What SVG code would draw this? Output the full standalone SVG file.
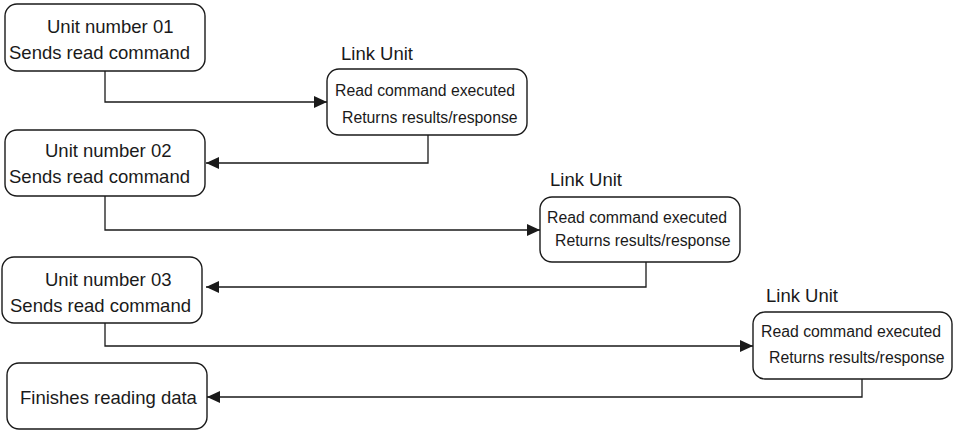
<svg xmlns="http://www.w3.org/2000/svg" width="953" height="430" viewBox="0 0 953 430">
<defs>
<style>
.box{fill:#fff;stroke:#1a1a1a;stroke-width:1.4}
.t{font-family:"Liberation Sans",Arial,sans-serif;font-size:18.5px;fill:#1a1a1a}
.s{font-family:"Liberation Sans",Arial,sans-serif;font-size:15.8px;fill:#1a1a1a}
.c{fill:none;stroke:#1a1a1a;stroke-width:1.3}
</style>
<marker id="arr" markerUnits="userSpaceOnUse" markerWidth="14" markerHeight="12" refX="13" refY="6" orient="auto">
<path d="M0,0 L13,6 L0,12 Z" fill="#1a1a1a"/>
</marker>
</defs>
<rect width="953" height="430" fill="#fff"/>
<g id="connectors">
<path class="c" d="M105,71 V102 H327" marker-end="url(#arr)"/>
<path class="c" d="M428,135 V163 H206" marker-end="url(#arr)"/>
<path class="c" d="M105,196 V230 H540" marker-end="url(#arr)"/>
<path class="c" d="M646,262 V287 H206" marker-end="url(#arr)"/>
<path class="c" d="M105,323 V346 H753" marker-end="url(#arr)"/>
<path class="c" d="M862,379 V397 H207" marker-end="url(#arr)"/>
</g>
<g id="unit01">
<rect class="box" x="5" y="4" width="200" height="67" rx="12"/>
<text class="t" x="47" y="33">Unit number 01</text>
<text class="t" x="9" y="59">Sends read command</text>
</g>
<g id="link1">
<text class="t" x="341" y="60">Link Unit</text>
<rect class="box" x="327" y="69" width="200" height="66" rx="12"/>
<text class="s" x="335" y="96">Read command executed</text>
<text class="s" x="342" y="123">Returns results/response</text>
</g>
<g id="unit02">
<rect class="box" x="5" y="130" width="200" height="66" rx="12"/>
<text class="t" x="45" y="157">Unit number 02</text>
<text class="t" x="9" y="183">Sends read command</text>
</g>
<g id="link2">
<text class="t" x="550" y="186">Link Unit</text>
<rect class="box" x="540" y="197" width="200" height="65" rx="12"/>
<text class="s" x="547" y="223">Read command executed</text>
<text class="s" x="555" y="246">Returns results/response</text>
</g>
<g id="unit03">
<rect class="box" x="2" y="257" width="200" height="66" rx="12"/>
<text class="t" x="45" y="286">Unit number 03</text>
<text class="t" x="10" y="312">Sends read command</text>
</g>
<g id="link3">
<text class="t" x="766" y="302">Link Unit</text>
<rect class="box" x="753" y="312" width="199" height="67" rx="12"/>
<text class="s" x="761" y="337">Read command executed</text>
<text class="s" x="769" y="363">Returns results/response</text>
</g>
<g id="finish">
<rect class="box" x="7" y="363" width="200" height="66" rx="12"/>
<text class="t" x="20" y="404">Finishes reading data</text>
</g>
</svg>
